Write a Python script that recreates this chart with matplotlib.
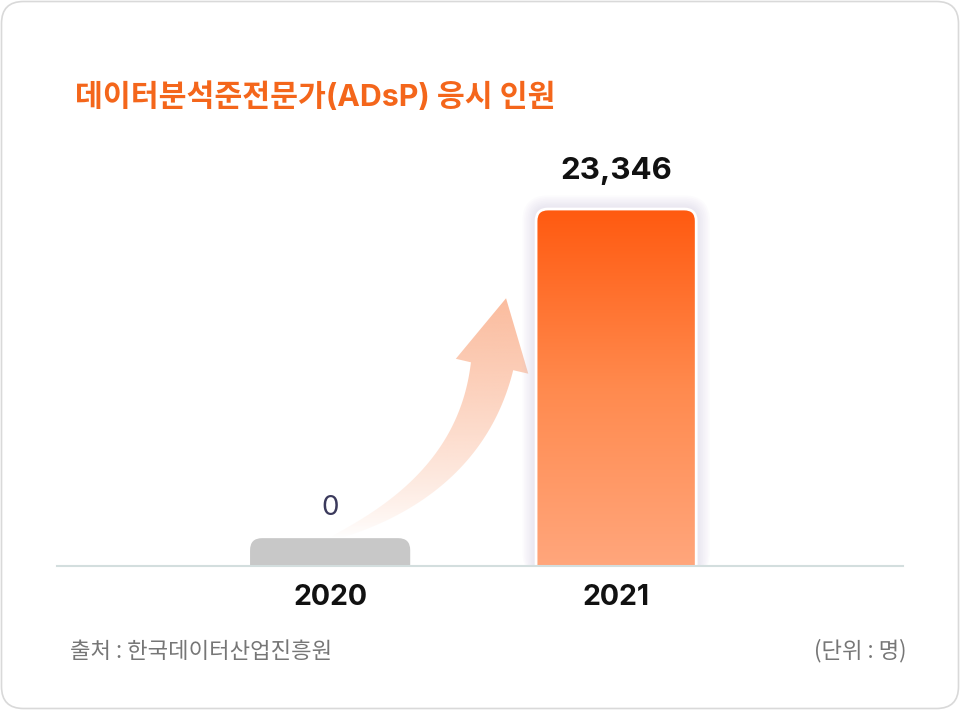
import matplotlib.pyplot as plt
import numpy as np
from matplotlib.patches import FancyBboxPatch, Polygon
from matplotlib.colors import LinearSegmentedColormap, to_rgb

# data
years = ['2020', '2021']
applicants = [0, 23346]
value_labels = ['0', '23,346']

title = '데이터분석준전문가(ADsP) 응시 인원'
source = '출처 : 한국데이터산업진흥원'
unit = '(단위 : 명)'

KR = ['Noto Sans CJK KR', 'DejaVu Sans']
NUM = ['Inter', 'Noto Sans CJK KR', 'DejaVu Sans']

W, H = 960, 710
fig = plt.figure(figsize=(W / 100, H / 100), dpi=100)

# background card (pixel coordinates)
bg = fig.add_axes([0, 0, 1, 1], zorder=0)
bg.set_xlim(0, W)
bg.set_ylim(0, H)
bg.axis('off')
bg.add_patch(FancyBboxPatch((1.5, 1.5), W - 3, H - 3,
                            boxstyle='round,pad=0,rounding_size=22',
                            fc='white', ec='#d9d9d9', lw=1.2))

# main axes
ymax = max(applicants) * 1.25
ax = fig.add_axes([57 / W, 144 / H, 846 / W, 357 * 1.25 / H], zorder=1)
ax.set_xlim(-0.955, 2.003)
ax.set_ylim(0, ymax)
ax.set_autoscale_on(False)
ax.patch.set_alpha(0)
for s in ax.spines.values():
    s.set_visible(False)
ax.set_xticks([])
ax.set_yticks([])
ax.axhline(0, color='#d3dede', lw=1.5, zorder=6, clip_on=False)

# pixel size of data units
o = ax.transData.transform((0, 0))
sx = ax.transData.transform((1, 0))[0] - o[0]
sy = ax.transData.transform((0, 1))[1] - o[1]

bar_w = 0.56
r_px = 12
rx = r_px / sx
aspect = sx / sy
min_h = 0.078 * max(applicants)

grad = LinearSegmentedColormap.from_list('g', ['#ffa67c', '#ff8a4e', '#ff5a10'])
label_pad = [12, 17]
bar_tops = []

for i, v in enumerate(applicants):
    h = max(v, min_h)
    bar_tops.append(h)
    x0 = i - bar_w / 2
    if v > 0:
        # soft glow
        for k in range(8, 0, -1):
            e = k * 1.7
            glow = FancyBboxPatch((x0 - e / sx, -rx * aspect), bar_w + 2 * e / sx,
                                  h + rx * aspect + e / sy,
                                  boxstyle='round,pad=0,rounding_size=%f' % (rx + e / sx),
                                  mutation_aspect=aspect, fc='#c6c0dc', ec='none',
                                  alpha=0.05, zorder=2)
            ax.add_patch(glow)
        p = FancyBboxPatch((x0, -rx * aspect), bar_w, h + rx * aspect,
                           boxstyle='round,pad=0,rounding_size=%f' % rx,
                           mutation_aspect=aspect, fc='none', ec='white', lw=2, zorder=4)
        ax.add_patch(p)
        img = ax.imshow(np.linspace(0, 1, 256).reshape(-1, 1), cmap=grad, origin='lower',
                        extent=(x0, x0 + bar_w, 0, h), aspect='auto', zorder=3)
        img.set_clip_path(p)
    else:
        p = FancyBboxPatch((x0, -rx * aspect), bar_w, h + rx * aspect,
                           boxstyle='round,pad=0,rounding_size=%f' % rx,
                           mutation_aspect=aspect, fc='#c8c8c8', ec='none', zorder=3)
        ax.add_patch(p)

    if v > 0:
        ax.annotate(value_labels[i], (i, h), xytext=(0, label_pad[i]), textcoords='offset points',
                    ha='center', va='bottom', fontsize=22.5, fontweight='bold',
                    color='#111111', family=NUM, zorder=7)
    else:
        ax.annotate(value_labels[i], (i, h), xytext=(0, label_pad[i]), textcoords='offset points',
                    ha='center', va='bottom', fontsize=20, color='#3b3a5c',
                    family=NUM, zorder=7)
    ax.annotate(years[i], (i, 0), xytext=(0, -23), textcoords='offset points',
                ha='center', va='center', fontsize=20.5, fontweight='bold',
                color='#111111', family=NUM, annotation_clip=False)

# curved arrow from 2020 to 2021 (built in pixels)
p0 = np.array(ax.transData.transform((0, bar_tops[0]))) + np.array([2, 0])
tip = np.array(ax.transData.transform((1 - bar_w / 2, 0.75 * max(applicants)))) + np.array([-30, 0])
p2 = tip + np.array([-14, -68])
p1 = p2 + np.array([-22, -118])
t = np.linspace(0, 1, 80)[:, None]
curve = (1 - t) ** 2 * p0 + 2 * (1 - t) * t * p1 + t ** 2 * p2
deriv = 2 * (1 - t) * (p1 - p0) + 2 * t * (p2 - p1)
deriv /= np.linalg.norm(deriv, axis=1, keepdims=True)
normal = np.column_stack([-deriv[:, 1], deriv[:, 0]])
width = 3 + 40 * t[:, 0] ** 0.75
left = curve + normal * width[:, None] / 2
right = curve - normal * width[:, None] / 2
d = (tip - p2) / np.linalg.norm(tip - p2)
n = np.array([-d[1], d[0]])
head = [p2 + n * 37, tip, p2 - n * 37]
pts = np.vstack([right, head[2:], [tip], head[:1], left[::-1]])
arrow = Polygon(pts, closed=True, fc='none', ec='none')
bg.add_patch(arrow)
rgb = to_rgb('#fbbc9e')
ny = 200
alpha = np.linspace(0.0, 1.0, ny) ** 0.8
rgba = np.zeros((ny, 1, 4))
rgba[:, 0, :3] = rgb
rgba[:, 0, 3] = alpha
aimg = bg.imshow(rgba, origin='lower', aspect='auto', zorder=2,
                 extent=(pts[:, 0].min(), pts[:, 0].max(), p0[1], tip[1]))
aimg.set_clip_path(arrow)
bg.set_xlim(0, W)
bg.set_ylim(0, H)

# texts
bg.text(75, H - 97, title, ha='left', va='center', fontsize=21.8, fontweight='bold',
        color='#f4661b', family=NUM)
bg.text(70, H - 651, source, ha='left', va='center', fontsize=16, color='#767676', family=KR)
bg.text(906, H - 651, unit, ha='right', va='center', fontsize=16, color='#767676', family=KR)

fig.savefig('out.png', dpi=100)
